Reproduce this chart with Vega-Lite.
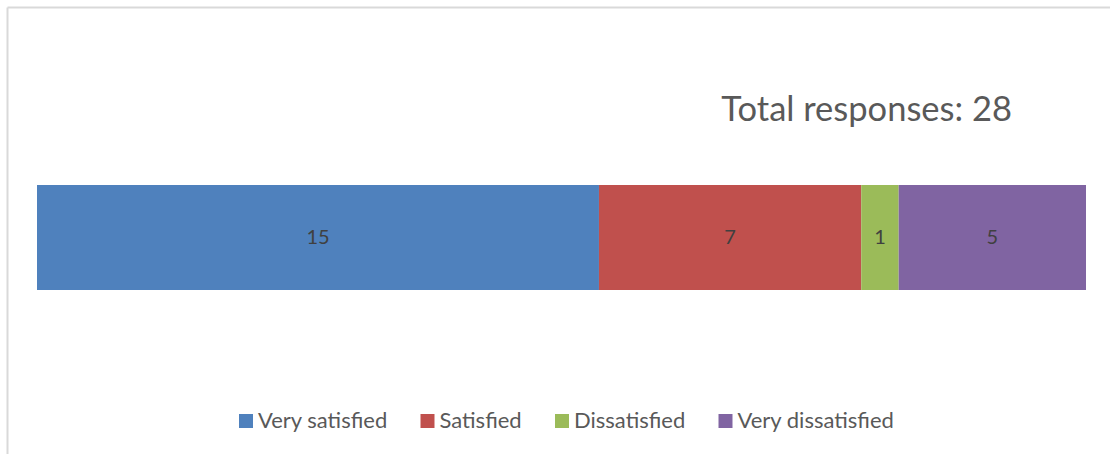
{
  "$schema": "https://vega.github.io/schema/vega-lite/v6.json",
  "width": 1103,
  "height": 447,
  "autosize": "none",
  "padding": {"left": 7, "top": 7, "right": 0, "bottom": 0},
  "background": "white",
  "config": {
    "view": {"stroke": null},
    "font": "Lato"
  },
  "title": {
    "text": "Total responses: 28",
    "anchor": "end",
    "orient": "top",
    "frame": "group",
    "offset": 0,
    "dx": -98,
    "dy": 148,
    "baseline": "alphabetic",
    "font": "Lato",
    "fontSize": 34.5,
    "fontWeight": "normal",
    "color": "#595959"
  },
  "data": {
    "values": [
      {"question": "Q", "response": "Very satisfied", "count": 15, "order": 1},
      {"question": "Q", "response": "Satisfied", "count": 7, "order": 2},
      {"question": "Q", "response": "Dissatisfied", "count": 1, "order": 3},
      {"question": "Q", "response": "Very dissatisfied", "count": 5, "order": 4}
    ]
  },
  "transform": [
    {"stack": "count", "groupby": ["question"], "sort": [{"field": "order", "order": "ascending"}], "as": ["c0", "c1"]},
    {"calculate": "(datum.c0 + datum.c1) / 2", "as": "cmid"}
  ],
  "encoding": {
    "y": {
      "field": "question",
      "type": "nominal",
      "scale": {"paddingInner": 0.386, "paddingOuter": 1, "align": 0.5205},
      "axis": {"orient": "left", "labels": false, "ticks": false, "title": null, "domainColor": "#d9d9d9", "domainWidth": 2, "grid": false}
    }
  },
  "layer": [
    {
      "mark": {"type": "bar"},
      "encoding": {
        "x": {
          "field": "c0",
          "type": "quantitative",
          "scale": {"domain": [-0.8008, 28.6406], "nice": false, "zero": false},
          "axis": {"orient": "top", "labels": false, "ticks": false, "title": null, "grid": false, "domainColor": "#d9d9d9", "domainWidth": 2}
        },
        "x2": {"field": "c1"},
        "color": {
          "field": "response",
          "type": "nominal",
          "sort": ["Very satisfied", "Satisfied", "Dissatisfied", "Very dissatisfied"],
          "scale": {
            "domain": ["Very satisfied", "Satisfied", "Dissatisfied", "Very dissatisfied"],
            "range": ["#4F81BD", "#C0504D", "#9BBB59", "#8064A2"]
          },
          "legend": {
            "orient": "none",
            "direction": "horizontal",
            "legendX": 228,
            "legendY": 403,
            "title": null,
            "symbolType": "square",
            "symbolSize": 196,
            "symbolStrokeWidth": 0,
            "symbolOpacity": 1,
            "labelFont": "Lato",
            "labelFontSize": 22,
            "labelColor": "#595959",
            "labelOffset": 1,
            "columnPadding": 28.5,
            "labelLimit": 400
          }
        }
      }
    },
    {
      "mark": {"type": "text", "font": "Lato", "fontSize": 20, "color": "#404040", "baseline": "middle", "align": "center"},
      "encoding": {
        "x": {"field": "cmid", "type": "quantitative"},
        "text": {"field": "count", "type": "quantitative"}
      }
    }
  ]
}
